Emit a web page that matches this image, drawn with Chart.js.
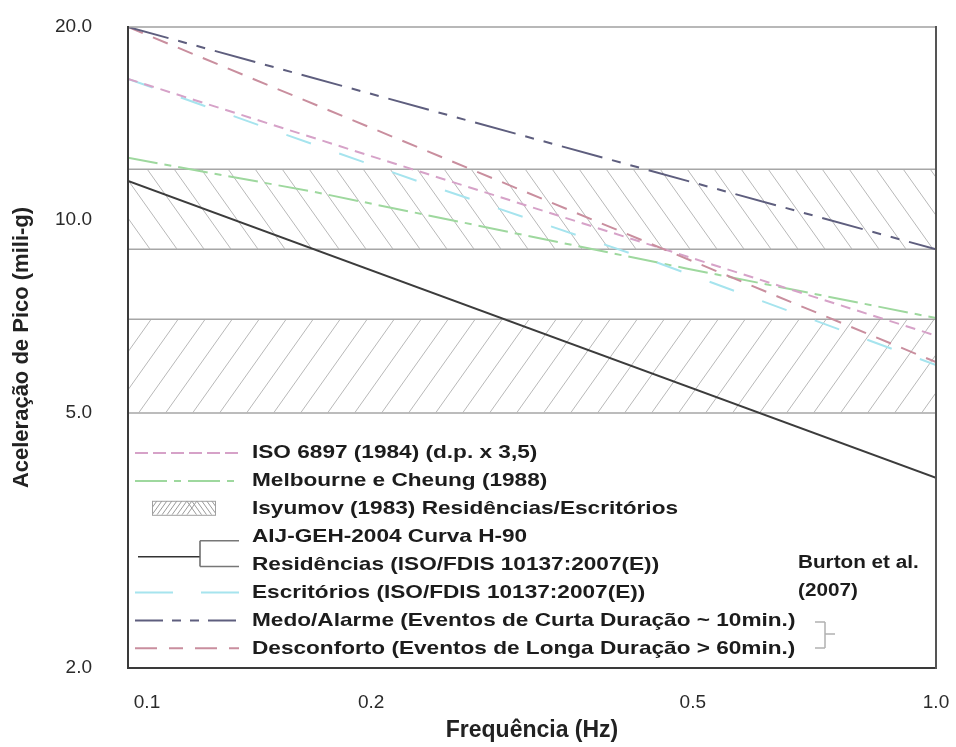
<!DOCTYPE html>
<html>
<head>
<meta charset="utf-8">
<script src="https://cdn.jsdelivr.net/npm/chart.js@4.4.1/dist/chart.umd.min.js"></script>
<style>
html,body{margin:0;padding:0;background:#ffffff;}
#wrap{width:956px;height:747px;position:relative;}
</style>
</head>
<body>
<div id="wrap"><canvas id="c" width="956" height="747"></canvas></div>
<script>
// ---------------- data ----------------
const freqTicks = [0.1, 0.2, 0.5, 1.0];
const accelTicks = [2.0, 5.0, 10.0, 20.0];

const freqLine = [0.1, 1.0];
const medoAlarme = [20.0, 9.0];
const desconforto = [20.0, 6.0];
const iso6897 = [16.6, 6.6];
const aijResidencias = [11.5, 3.96];

const escritoriosFreq = [0.1, 0.228, 0.443, 1.0];
const escritorios = [16.6, 11.5, 8.66, 5.94];

const melbourneFreq = [0.1, 0.17, 0.297, 0.489, 1.0];
const melbourne = [12.5, 11.06, 9.57, 8.41, 7.03];

const isyumovLow = [9.0, 5.0];
const isyumovHigh = [12.0, 7.0];

const legendLabels = [
  'ISO 6897 (1984) (d.p. x 3,5)',
  'Melbourne e Cheung (1988)',
  'Isyumov (1983) Residências/Escritórios',
  'AIJ-GEH-2004 Curva H-90',
  'Residências (ISO/FDIS 10137:2007(E))',
  'Escritórios (ISO/FDIS 10137:2007(E))',
  'Medo/Alarme (Eventos de Curta Duração ~ 10min.)',
  'Desconforto (Eventos de Longa Duração > 60min.)'
];
const burtonLabel = ['Burton et al.', '(2007)'];
const xTitle = 'Frequência (Hz)';
const yTitle = 'Aceleração de Pico (mili-g)';

// ---------------- styles ----------------
const FONT = '"Liberation Sans", Arial, sans-serif';
const C = {
  iso: '#d6a2c8',
  melb: '#9ed89e',
  esc: '#a6e4ee',
  medo: '#5e5e7e',
  desc: '#c98e9e',
  black: '#3c3c3c',
  band: '#a6a6a6',
  hatch: '#b8b8b8'
};

const canvas = document.getElementById('c');
const mainCtx = canvas.getContext('2d');

function hatchPattern(dir) {
  const w = 27, h = 38;
  const t = document.createElement('canvas');
  t.width = w; t.height = h;
  const g = t.getContext('2d');
  g.strokeStyle = C.hatch;
  g.lineWidth = 1;
  g.beginPath();
  for (const o of [-w, 0, w]) {
    if (dir === 'back') { g.moveTo(o, 0); g.lineTo(o + w, h); }
    else { g.moveTo(o, h); g.lineTo(o + w, 0); }
  }
  g.stroke();
  return mainCtx.createPattern(t, 'repeat');
}
const patBack = hatchPattern('back');
const patFwd = hatchPattern('fwd');

const pts = (xs, ys) => xs.map((x, i) => ({ x: x, y: ys[i] }));
const flat = (v) => freqLine.map(() => v);

const lineBase = { pointRadius: 0, borderWidth: 2, fill: false, tension: 0 };

const datasets = [
  Object.assign({}, lineBase, { label: 'Medo', data: pts(freqLine, medoAlarme), borderColor: C.medo, borderDash: [42, 10, 9, 10, 9, 10], order: 1 }),
  Object.assign({}, lineBase, { label: 'Desconforto', data: pts(freqLine, desconforto), borderColor: C.desc, borderDash: [16, 11], order: 2 }),
  Object.assign({}, lineBase, { label: 'ISO 6897', data: pts(freqLine, iso6897), borderColor: C.iso, borderDash: [10, 7], order: 3 }),
  Object.assign({}, lineBase, { label: 'Escritorios', data: pts(escritoriosFreq, escritorios), borderColor: C.esc, borderDash: [26, 30], order: 4 }),
  Object.assign({}, lineBase, { label: 'Melbourne', data: pts(melbourneFreq, melbourne), borderColor: C.melb, borderDash: [30, 7, 7, 7], order: 5 }),
  Object.assign({}, lineBase, { label: 'AIJ', data: pts(freqLine, aijResidencias), borderColor: C.black, order: 6 }),
  // Isyumov bands
  Object.assign({}, lineBase, { label: 'Isyumov1', data: pts(freqLine, flat(isyumovHigh[0])), borderColor: C.band, borderWidth: 1.5, fill: { value: isyumovLow[0] }, backgroundColor: patBack, order: 10 }),
  Object.assign({}, lineBase, { label: 'Isyumov1b', data: pts(freqLine, flat(isyumovLow[0])), borderColor: C.band, borderWidth: 1.5, order: 10 }),
  Object.assign({}, lineBase, { label: 'Isyumov2', data: pts(freqLine, flat(isyumovHigh[1])), borderColor: C.band, borderWidth: 1.5, fill: { value: isyumovLow[1] }, backgroundColor: patFwd, order: 10 }),
  Object.assign({}, lineBase, { label: 'Isyumov2b', data: pts(freqLine, flat(isyumovLow[1])), borderColor: C.band, borderWidth: 1.5, order: 10 })
];

// ---------------- plugins ----------------
const framePlugin = {
  id: 'frame',
  afterDatasetsDraw(chart) {
    const { ctx, chartArea: a } = chart;
    ctx.save();
    ctx.lineCap = 'square';
    ctx.strokeStyle = '#a0a0a0'; ctx.lineWidth = 1.5;
    ctx.beginPath(); ctx.moveTo(a.left, a.top); ctx.lineTo(a.right, a.top); ctx.stroke();
    ctx.strokeStyle = '#3a3a3a'; ctx.lineWidth = 2;
    ctx.beginPath(); ctx.moveTo(a.left, a.top); ctx.lineTo(a.left, a.bottom); ctx.lineTo(a.right, a.bottom); ctx.stroke();
    ctx.strokeStyle = '#555555';
    ctx.beginPath(); ctx.moveTo(a.right, a.top); ctx.lineTo(a.right, a.bottom); ctx.stroke();
    ctx.restore();
  }
};

// x tick labels: first label nudged inward like the reference
const xLabelPlugin = {
  id: 'xLabels',
  afterDraw(chart) {
    const ctx = chart.ctx, sx = chart.scales.x, a = chart.chartArea;
    ctx.save();
    ctx.fillStyle = '#2a2a2a';
    ctx.font = '19px ' + FONT;
    ctx.textBaseline = 'middle';
    ctx.textAlign = 'center';
    freqTicks.forEach((v, i) => {
      let px = sx.getPixelForValue(v);
      if (i === 0) px += 19;
      ctx.fillText(v.toFixed(1), px, a.bottom + 35);
    });
    ctx.restore();
  }
};

function seg(ctx, x1, y1, x2, y2, color, width, dash) {
  ctx.save();
  ctx.strokeStyle = color; ctx.lineWidth = width;
  ctx.setLineDash(dash || []);
  ctx.beginPath(); ctx.moveTo(x1, y1); ctx.lineTo(x2, y2); ctx.stroke();
  ctx.restore();
}

function wideText(ctx, text, x, y, sx) {
  ctx.save();
  ctx.translate(x, y);
  ctx.scale(sx, 1);
  ctx.fillText(text, 0, 0);
  ctx.restore();
}

const legendPlugin = {
  id: 'customLegend',
  afterDraw(chart) {
    const ctx = chart.ctx;
    const a = chart.chartArea;
    const x0 = a.left + 7, x1 = a.left + 111, tx = a.left + 124;
    const rowY = legendLabels.map((_, i) => 452 + i * 27.9);
    ctx.save();
    // samples
    seg(ctx, x0, rowY[0] + 1, x1, rowY[0] + 1, C.iso, 2, [13, 5]);
    seg(ctx, x0, rowY[1] + 1, x1, rowY[1] + 1, C.melb, 2, [32, 7, 7, 7]);
    // hatch sample
    const hx = a.left + 24, hy = rowY[2] - 7, hw = 63, hh = 14;
    ctx.save();
    ctx.beginPath(); ctx.rect(hx, hy, hw, hh); ctx.clip();
    ctx.strokeStyle = '#9a9a9a'; ctx.lineWidth = 1;
    ctx.beginPath();
    for (let k = -20; k < hw * 0.6; k += 5) { ctx.moveTo(hx + k, hy + hh); ctx.lineTo(hx + k + 10, hy); }
    for (let k = hw * 0.55; k < hw + 10; k += 5) { ctx.moveTo(hx + k, hy); ctx.lineTo(hx + k + 10, hy + hh); }
    ctx.stroke();
    ctx.restore();
    ctx.strokeStyle = '#a0a0a0'; ctx.lineWidth = 1;
    ctx.strokeRect(hx + 0.5, hy + 0.5, hw, hh);
    // bracket for AIJ / Residencias
    const by1 = rowY[3] + 5, by2 = rowY[4] + 3, bm = (by1 + by2) / 2 + 3, bx = a.left + 72;
    seg(ctx, x0 + 3, bm, bx, bm, '#333333', 1.5);
    seg(ctx, bx, by1, bx, by2, '#666666', 1.5);
    seg(ctx, bx, by1, x1, by1, '#777777', 1.5);
    seg(ctx, bx, by2, x1, by2, '#777777', 1.5);
    seg(ctx, x0, rowY[5] + 1, x1, rowY[5] + 1, C.esc, 2, [38, 28]);
    seg(ctx, x0, rowY[6] + 1, x1, rowY[6] + 1, C.medo, 2, [28, 9, 9, 9, 9, 9]);
    seg(ctx, x0, rowY[7] + 1, x1, rowY[7] + 1, C.desc, 2, [22, 12, 14, 12]);
    // texts
    ctx.fillStyle = '#1c1c1c';
    ctx.font = 'bold 19px ' + FONT;
    ctx.textBaseline = 'middle';
    ctx.textAlign = 'left';
    legendLabels.forEach((t, i) => wideText(ctx, t, tx, rowY[i] + 1, 1.19));
    ctx.font = 'bold 18px ' + FONT;
    wideText(ctx, burtonLabel[0], 798, 563, 1.15);
    wideText(ctx, burtonLabel[1], 798, 591, 1.15);
    // right bracket (Medo / Desconforto)
    const rb = 825;
    seg(ctx, 815, 622, rb, 622, '#b0b0b0', 1.5);
    seg(ctx, rb, 622, rb, 648, '#b0b0b0', 1.5);
    seg(ctx, 815, 648, rb, 648, '#b0b0b0', 1.5);
    seg(ctx, rb, 634, 835, 634, '#b0b0b0', 1.5);
    ctx.restore();
  }
};

function zeroPad(s) { s.paddingTop = 0; s.paddingBottom = 0; s.paddingLeft = 0; s.paddingRight = 0; }

new Chart(canvas, {
  type: 'line',
  data: { datasets: datasets },
  options: {
    responsive: false,
    animation: false,
    events: [],
    layout: { padding: { left: 0, right: 20, top: 27, bottom: 0 } },
    plugins: { legend: { display: false }, tooltip: { enabled: false } },
    scales: {
      x: {
        type: 'logarithmic', min: 0.1, max: 1.0,
        afterBuildTicks: (s) => { s.ticks = freqTicks.map(v => ({ value: v })); },
        afterFit: (s) => { s.height = 79; zeroPad(s); },
        grid: { display: false, drawTicks: false }, border: { display: false },
        ticks: { display: false },
        title: { display: true, text: xTitle, font: { family: FONT, size: 23, weight: 'bold' }, color: '#222222', padding: { top: 0, bottom: 3 } }
      },
      y: {
        type: 'logarithmic', min: 2, max: 20,
        afterBuildTicks: (s) => { s.ticks = accelTicks.map(v => ({ value: v })); },
        afterFit: (s) => { s.width = 128; zeroPad(s); },
        grid: { display: false, drawTicks: false }, border: { display: false },
        ticks: { autoSkip: false, callback: (v) => Number(v).toFixed(1), font: { family: FONT, size: 19 }, color: '#2a2a2a', padding: 36 },
        title: { display: true, text: yTitle, font: { family: FONT, size: 22, weight: 'bold' }, color: '#222222', padding: { top: 9, bottom: 0 } }
      }
    }
  },
  plugins: [framePlugin, legendPlugin, xLabelPlugin]
});
</script>
</body>
</html>
